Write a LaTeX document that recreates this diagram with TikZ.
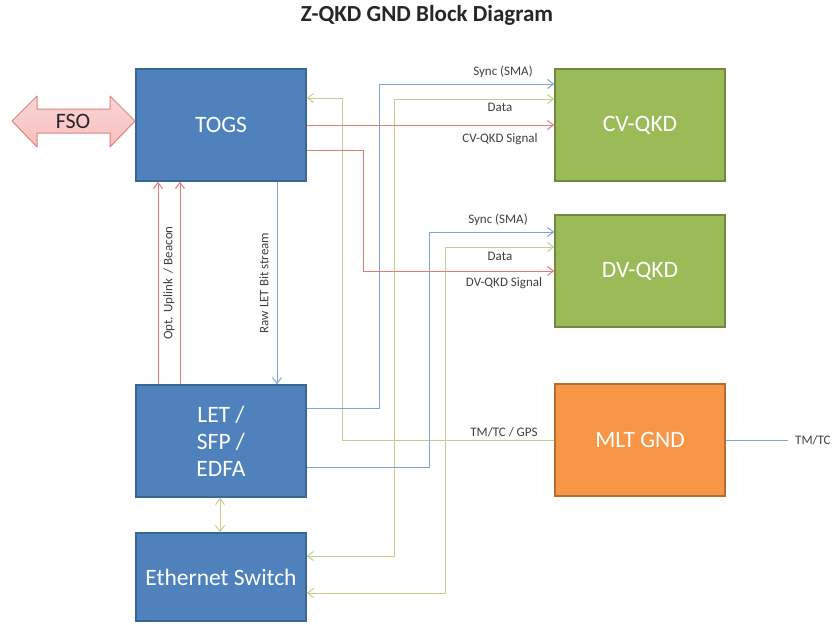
\documentclass[tikz,border=0pt]{standalone}
\usepackage{fontspec}
\setmainfont{Carlito}
\usetikzlibrary{arrows.meta,calc}
\definecolor{boxblue}{HTML}{4F81BD}
\definecolor{boxblueb}{HTML}{3A6597}
\definecolor{boxgreen}{HTML}{9BBB59}
\definecolor{boxgreenb}{HTML}{71893F}
\definecolor{boxorange}{HTML}{F79646}
\definecolor{boxorangeb}{HTML}{B66D31}
\definecolor{lred}{HTML}{E07C7A}
\definecolor{lblue}{HTML}{7FA3D6}
\definecolor{lgreen}{HTML}{BCD38E}
\definecolor{fsofill}{HTML}{F7C3C1}
\definecolor{fsoline}{HTML}{D98583}
\definecolor{txtgray}{HTML}{404040}
\tikzset{
  blk/.style={draw=#1, line width=1.5pt, minimum width=170pt, minimum height=112pt, inner sep=0pt, text=white, align=center, font=\fontsize{23.5}{27}\selectfont},
  bluebox/.style={blk=boxblueb, fill=boxblue},
  greenbox/.style={blk=boxgreenb, fill=boxgreen},
  orangebox/.style={blk=boxorangeb, fill=boxorange},
  conn/.style={line width=1pt, -{Straight Barb[length=6pt,width=9pt]}},
  bconn/.style={line width=1pt, {Straight Barb[length=6pt,width=9pt]}-{Straight Barb[length=6pt,width=9pt]}},
  rline/.style={draw=lred},
  bline/.style={draw=lblue},
  gline/.style={draw=lgreen},
  lbl/.style={text=txtgray, font=\fontsize{13}{15}\selectfont, inner sep=1pt},
}
\begin{document}
\begin{tikzpicture}[x=1pt,y=-1pt]
\useasboundingbox (0,0) rectangle (835,624);
\node[font=\fontsize{23}{27}\selectfont\bfseries, text=black!85] (title) at (427,15) {Z-QKD GND Block Diagram};

% boxes
\node[bluebox] (togs) at (221,125) {TOGS};
\node[greenbox] (cv) at (640,125) {CV-QKD};
\node[greenbox] (dv) at (640,271) {DV-QKD};
\node[orangebox] (mlt) at (640,440) {MLT GND};
\node[bluebox] (let) at (221,441) {LET /\\SFP /\\EDFA};
\node[bluebox, minimum height=88pt] (eth) at (221,577) {Ethernet Switch};

% FSO double arrow
\shade[top color=fsofill!70!white, bottom color=fsofill!90!red!80, draw=fsoline, line width=1pt, line join=round]
  (12,121) -- (37,96) -- (37,109) -- (110,109) -- (110,96) -- (135,121)
  -- (110,147) -- (110,133) -- (37,133) -- (37,147) -- cycle;
\node[text=black!85, font=\fontsize{22}{26}\selectfont] (fso) at (73,121) {FSO};

% helper coordinates
\coordinate (g1) at (342,98);
\coordinate (g2a) at (394,556);
\coordinate (g2b) at (394,99);
\coordinate (g3a) at (445,593);
\coordinate (g3b) at (445,247);
\coordinate (b1a) at (379,408);
\coordinate (b1b) at (379,84);
\coordinate (b2a) at (429,467);
\coordinate (b2b) at (429,232);
\coordinate (r2a) at (363,150);
\coordinate (r2b) at (363,271);
\coordinate (u1) at (158,0);
\coordinate (u2) at (180,0);
\coordinate (d1) at (277,0);
\coordinate (e1) at (220,0);

% green lines
\draw[conn,gline] (mlt.west) -| (g1) -- (togs.east |- g1);
\draw[bconn,gline] (eth.east |- g2a) -- (g2a) -- (g2b) -- (cv.west |- g2b);
\draw[bconn,gline] (eth.east |- g3a) -- (g3a) -- (g3b) -- (dv.west |- g3b);
\draw[bconn,gline] (let.south -| e1) -- (eth.north -| e1);

% blue lines
\draw[conn,bline] (let.east |- b1a) -- (b1a) -- (b1b) -- (cv.west |- b1b);
\draw[conn,bline] (let.east |- b2a) -- (b2a) -- (b2b) -- (dv.west |- b2b);
\draw[conn,bline] (togs.south -| d1) -- (let.north -| d1);
\coordinate (tmend) at (788,440);
\draw[line width=1pt,bline] (mlt.east) -- (tmend);
\node[lbl, anchor=west] (tmtc) at (794,440) {TM/TC};

% red lines
\draw[conn,rline] (togs.east) -- (cv.west);
\draw[conn,rline] (togs.east |- r2a) -- (r2a) -- (r2b) -- (dv.west);
\draw[conn,rline] (let.north -| u1) -- (togs.south -| u1);
\draw[conn,rline] (let.north -| u2) -- (togs.south -| u2);

% labels
\node[lbl] (l1) at (503,72) {Sync (SMA)};
\node[lbl] (l2) at (500,107) {Data};
\node[lbl] (l3) at (500,139) {CV-QKD Signal};
\node[lbl] (l4) at (498,220) {Sync (SMA)};
\node[lbl] (l5) at (500,256) {Data};
\node[lbl] (l6) at (504,283) {DV-QKD Signal};
\node[lbl] (l7) at (504,432) {TM/TC / GPS};
\node[lbl, rotate=90] (l8) at (169,283) {Opt. Uplink\ \ / Beacon};
\node[lbl, rotate=90] (l9) at (264,283) {Raw LET Bit stream};
\end{tikzpicture}
\end{document}
